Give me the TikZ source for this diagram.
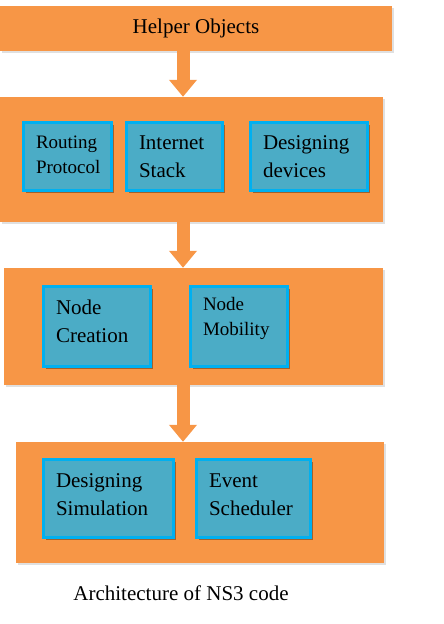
\documentclass[tikz,border=0pt]{standalone}
\usepackage{fontspec}
\setmainfont{Liberation Serif}
\usetikzlibrary{arrows.meta,shadows}
\definecolor{layerorange}{HTML}{F79646}
\definecolor{partblue}{HTML}{4BACC6}
\definecolor{partedge}{HTML}{00B0F0}
\tikzset{
    layer/.style 2 args={fill=layerorange, minimum width=#1, minimum height=#2, inner sep=0pt,
        drop shadow={shadow xshift=1.5pt, shadow yshift=-1.5pt, fill=black, opacity=.12}},
    part/.style 2 args={fill=partblue, draw=partedge, line width=3pt, minimum width=#1, minimum height=#2,
        inner xsep=12.5pt, inner ysep=0pt, align=left, font=\fontsize{21}{28}\selectfont,
        drop shadow={shadow xshift=2pt, shadow yshift=-2pt, fill=black, opacity=.35}},
    small/.style={font=\fontsize{19}{25}\selectfont},
    flow/.style={draw=layerorange, line width=13pt, -{Triangle[width=27pt,length=17pt]}}
}
\begin{document}
\begin{tikzpicture}[x=1pt,y=-1pt]
    \useasboundingbox (0,0) rectangle (444,624);

    \node[layer={392pt}{45pt}, font=\fontsize{21}{24}\selectfont] (helper) at (196,28.5) {Helper Objects};

    \node[layer={383pt}{125pt}] (layerone) at (191.5,159.5) {};
    \node[part={88pt}{68pt}, small, text width=63pt, text depth=29pt] (routing) at (67.5,156.5) {Routing\\Protocol};
    \node[part={96pt}{68pt}, text width=71pt] (stack) at (174.5,156.5) {Internet\\Stack};
    \node[part={117pt}{68pt}, text width=92pt] (devices) at (309,156.5) {Designing\\devices};

    \node[layer={379pt}{117pt}] (layertwo) at (193.5,326.5) {};
    \node[part={107pt}{80pt}, text width=82pt, text depth=39pt] (creation) at (97,326.5) {Node\\Creation};
    \node[part={97pt}{80pt}, small, text width=72pt, text depth=45pt] (mobility) at (239,326.5) {Node\\Mobility};

    \node[layer={368pt}{121pt}] (layerthree) at (200,502.5) {};
    \node[part={130pt}{78pt}, text width=105pt, text depth=35pt] (simulation) at (108.5,498.5) {Designing\\Simulation};
    \node[part={114pt}{78pt}, text width=89pt, text depth=35pt] (scheduler) at (253.5,498.5) {Event\\Scheduler};

    \node[font=\fontsize{21}{24}\selectfont] (caption) at (181,593) {Architecture of NS3 code};

    % arrows between the layers
    \coordinate (arrx) at (183,0);
    \draw[flow] (helper.south -| arrx) -- (layerone.north -| arrx);
    \draw[flow] (layerone.south -| arrx) -- (layertwo.north -| arrx);
    \draw[flow] (layertwo.south -| arrx) -- (layerthree.north -| arrx);
\end{tikzpicture}
\end{document}
